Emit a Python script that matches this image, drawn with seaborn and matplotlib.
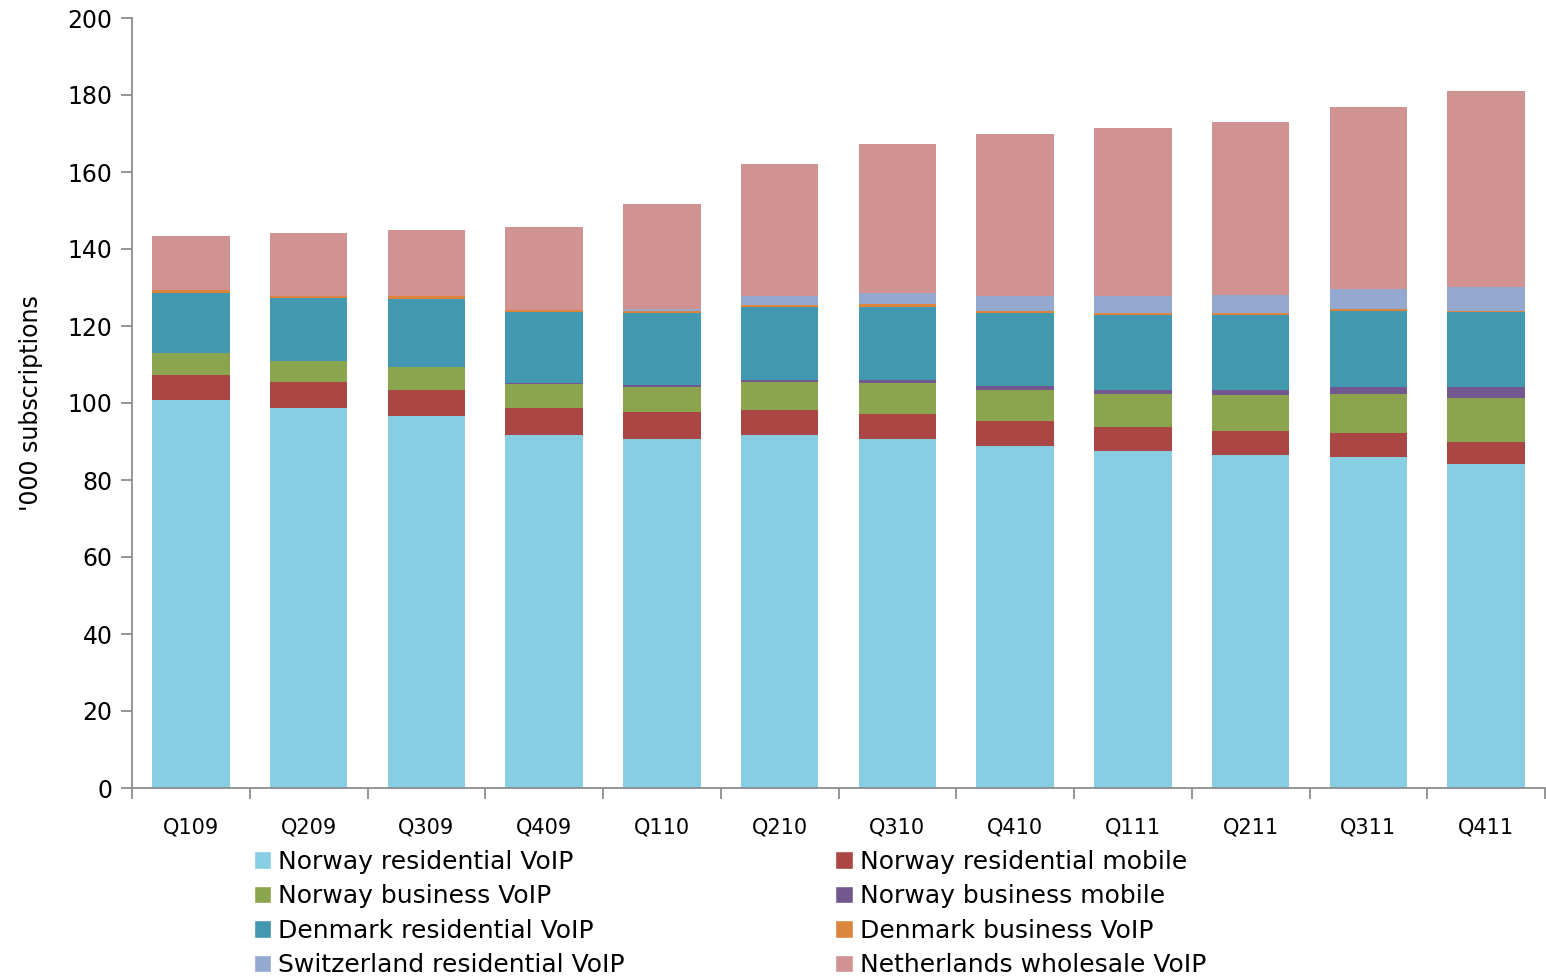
import matplotlib
matplotlib.use("Agg")
import matplotlib.pyplot as plt
import numpy as np
import pandas as pd
import seaborn as sns
from matplotlib.patches import Patch

# ─────────────────────────────────────────────
# DATOS ('000 subscriptions)
# ─────────────────────────────────────────────
quarters = ["Q109", "Q209", "Q309", "Q409", "Q110", "Q210",
            "Q310", "Q410", "Q111", "Q211", "Q311", "Q411"]

norway_res_voip    = [100.8, 98.6, 96.5, 91.7, 90.7, 91.7, 90.6, 88.8, 87.5, 86.6, 86.0, 84.1]
norway_res_mobile  = [6.6, 6.9, 7.0, 6.9, 6.9, 6.6, 6.5, 6.4, 6.2, 6.0, 6.2, 5.9]
norway_bus_voip    = [5.6, 5.3, 5.9, 6.3, 6.6, 7.2, 8.1, 8.1, 8.6, 9.5, 10.1, 11.2]
norway_bus_mobile  = [0.0, 0.0, 0.0, 0.3, 0.4, 0.4, 0.7, 1.0, 1.0, 1.2, 1.8, 2.9]
denmark_res_voip   = [15.5, 16.4, 17.7, 18.4, 18.9, 19.0, 19.0, 19.1, 19.6, 19.6, 19.7, 19.5]
denmark_bus_voip   = [0.8, 0.7, 0.7, 0.6, 0.5, 0.6, 0.7, 0.6, 0.4, 0.4, 0.5, 0.4]
swiss_res_voip     = [0.0, 0.0, 0.0, 0.0, 0.4, 2.2, 2.9, 3.9, 4.4, 4.8, 5.2, 6.1]
nl_wholesale_voip  = [14.1, 16.2, 17.1, 21.6, 27.3, 34.3, 38.7, 41.9, 43.7, 44.9, 47.4, 51.0]

series_names = ["Norway residential VoIP", "Norway residential mobile",
                "Norway business VoIP", "Norway business mobile",
                "Denmark residential VoIP", "Denmark business VoIP",
                "Switzerland residential VoIP", "Netherlands wholesale VoIP"]
series_values = [norway_res_voip, norway_res_mobile, norway_bus_voip, norway_bus_mobile,
                 denmark_res_voip, denmark_bus_voip, swiss_res_voip, nl_wholesale_voip]
colores = ["#87CEE3", "#AA4744", "#8AA54E", "#72588F",
           "#4298AF", "#DC853E", "#93A9D0", "#D19392"]

# ─────────────────────────────────────────────
# GRÁFICA — barras apiladas
# ─────────────────────────────────────────────
sns.set_style("white", {"xtick.bottom": True, "ytick.left": True,
                        "text.color": "black", "axes.labelcolor": "black",
                        "xtick.color": "black", "ytick.color": "black"})
plt.rcParams["font.family"] = ["DejaVu Sans"]

df = pd.DataFrame(dict(zip(series_names, series_values)), index=quarters)
acumulado = df.cumsum(axis=1)

fig = plt.figure(figsize=(15.46, 9.77), dpi=100)
ax = fig.add_axes([132 / 1546, 1 - 788 / 977, 1413 / 1546, 770 / 977])

# Dibujar de la capa superior a la inferior (totales acumulados)
for nombre, color in reversed(list(zip(series_names, colores))):
    sns.barplot(x=quarters, y=acumulado[nombre].values, color=color,
                width=0.66, ax=ax, linewidth=0, saturation=1)

gris = "#8C8C8C"
ax.set_ylim(0, 200)
ax.set_xlim(-0.5, len(quarters) - 0.5)
ax.set_yticks(range(0, 201, 20))
ax.tick_params(axis="y", labelsize=17, length=8, width=1.3, color=gris,
               labelcolor="black", direction="out", pad=6, left=True)
ax.set_xticks(range(len(quarters)))
ax.set_xticklabels(quarters, fontsize=15)
ax.set_xticks(np.arange(-0.5, len(quarters), 1), minor=True)
ax.tick_params(axis="x", which="major", length=0, pad=21, labelcolor="black")
ax.tick_params(axis="x", which="minor", length=8, width=1.3, color=gris,
               direction="out", bottom=True)
ax.set_ylabel("'000 subscriptions", fontsize=17, labelpad=18, color="black")
ax.set_xlabel("")

sns.despine(ax=ax)
for lado in ["left", "bottom"]:
    ax.spines[lado].set_color(gris)
    ax.spines[lado].set_linewidth(1.3)

# Leyenda en dos columnas (orden fila a fila)
orden = [0, 2, 4, 6, 1, 3, 5, 7]
handles = [Patch(facecolor=colores[i], label=series_names[i]) for i in orden]
fig.legend(handles=handles, loc="upper left", ncol=2, frameon=False,
           bbox_to_anchor=(241 / 1546, 1 - 837 / 977), fontsize=18,
           handlelength=0.7, handleheight=0.7, handletextpad=0.3,
           labelspacing=0.42, columnspacing=8.4, borderpad=0,
           labelcolor="black")

fig.savefig("out.png", dpi=100)
plt.close(fig)
